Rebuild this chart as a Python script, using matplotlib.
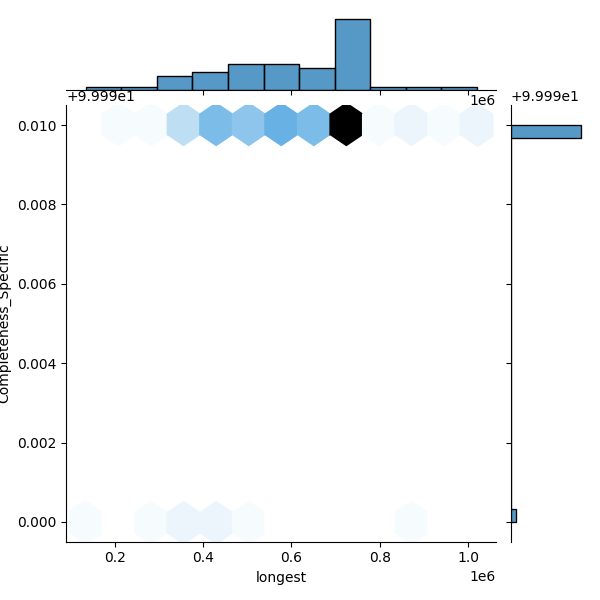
import matplotlib
matplotlib.use("Agg")
import matplotlib.pyplot as plt
import numpy as np
import pandas as pd
import seaborn as sns

# longest contig for genomes with Completeness_Specific == 100.0
longest_100 = [
    210000,
    285000,
    322000, 330000, 338000, 350000, 358000, 366000, 372000,
    395000, 400000, 406000, 412000, 418000, 425000, 432000, 440000,
    447000, 453000, 458000, 460000, 463000, 465000,
    469000, 475000, 481000, 487000, 493000, 499000, 505000, 511000,
    517000, 523000, 529000, 535000,
    544000, 548000, 553000, 557000, 562000, 566000, 571000, 575000,
    580000, 584000, 589000, 593000, 598000, 602000, 607000, 611000,
    615000, 620000, 625000, 630000, 635000, 640000, 645000, 650000,
    655000, 660000, 665000, 670000, 675000, 682000,
    692000, 699000, 700000, 701000, 702000, 703000, 704000, 706000,
    707000, 708000, 710000, 711000, 712000, 714000, 715000, 716000,
    718000, 719000, 720000, 721000, 722000, 723000, 724000, 725000,
    726000, 727000, 728000, 729000, 730000, 731000, 732000, 733000,
    734000, 736000, 737000, 738000, 740000, 741000, 743000, 744000,
    746000, 748000, 750000, 753000, 756000, 759000,
    770000,
    845000, 855000,
    935000,
    1000000, 1019000,
]
# longest contig for genomes with Completeness_Specific == 99.99
longest_9999 = [135000, 275000, 345000, 365000, 410000, 440000,
                500000, 875000]

df = pd.DataFrame({
    "longest": longest_100 + longest_9999,
    "Completeness_Specific": [100.0] * len(longest_100) + [99.99] * len(longest_9999),
})

# same colormap seaborn builds for kind="hex"
color_rgb = matplotlib.colors.to_rgb("C0")
colors = [sns.utils.set_hls_values(color_rgb, l=l) for l in np.linspace(1, 0, 12)]
cmap = sns.blend_palette(colors, as_cmap=True)

g = sns.JointGrid(data=df, x="longest", y="Completeness_Specific", height=6)
g.plot_joint(plt.hexbin, gridsize=12, cmap=cmap)
sns.histplot(data=df, x="longest", bins=11, color="C0", ax=g.ax_marg_x)
sns.histplot(data=df, y="Completeness_Specific", bins=30, color="C0", ax=g.ax_marg_y)

g.figure.savefig("out.png", dpi=100)
